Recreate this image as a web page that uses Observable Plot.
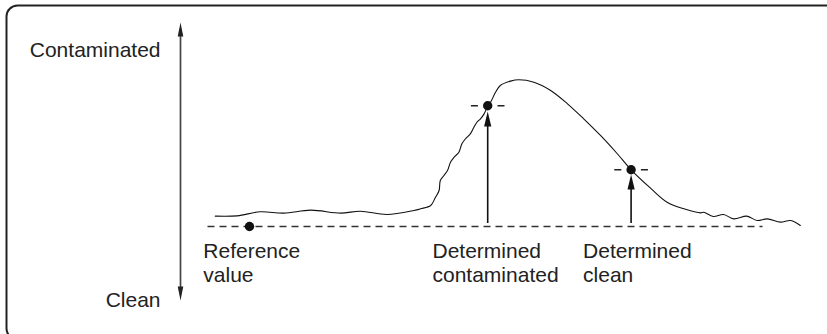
<!DOCTYPE html>
<html>
<head>
<meta charset="utf-8">
<script src="https://cdn.jsdelivr.net/npm/d3@7"></script>
<script src="https://cdn.jsdelivr.net/npm/@observablehq/plot@0.6"></script>
<style>
  html, body { margin: 0; padding: 0; background: #fff; overflow: hidden; }
  #chart svg { display: block; }
</style>
</head>
<body>
<div id="chart"></div>
<script>
// Measured signal (schematic): time t vs. contamination level (0 = reference value)
const curveT = [5.8, 9.45, 13.3, 17.2, 21.7, 26.7, 30, 34.4, 38.9, 40, 41.7, 42.5, 43.1, 43.3, 43.9, 44.5, 45, 45.6, 46.4, 46.9, 47.5, 48.3, 48.9, 49.4, 50, 50.6, 51.2, 51.7, 52.5, 53.3, 55, 56.4, 58.9, 61.7, 64.5, 67.2, 70, 72.8, 75.1, 78.3, 81.1, 83.9, 86.7, 87.2, 88.8, 90.5, 92.2, 94.4, 96.1, 97.8, 100, 101.7, 103.3];
const curveLevel = [6.9, 7.1, 9.8, 8.9, 10.9, 8.9, 10.2, 8, 10.7, 11.8, 14, 19.5, 24, 30.7, 34, 37.3, 42.9, 46.2, 49.5, 55.1, 58.5, 61.8, 66.2, 69.5, 71.8, 75.1, 80.3, 83, 89.5, 94, 96.9, 97.8, 96.2, 90.7, 81.8, 71.8, 60.7, 48.5, 37.8, 25.7, 16.2, 11.8, 9.1, 9.5, 6.7, 8, 5.1, 6.9, 4, 5.1, 2.9, 4, 0.7];

// Reference baseline (dashed)
const baselineT = [4.5, 97];
const baselineLevel = 0;

// Marked points: reference value, determined contaminated, determined clean
const pointT = [11.5, 51.2, 75.1];
const pointLevel = [0, 80.5, 37.8];

// Arrows from baseline up to the determined points
const arrowT = [51.2, 75.1];
const arrowTip = [76.7, 34.7];

// Point labels
const labelText = ["Reference\nvalue", "Determined\ncontaminated", "Determined\nclean"];
const labelT = [3.8, 42, 67.1];
const labelLevel = -9.4;

// Vertical scale axis (double arrow)
const axisT = 0;
const axisTop = 136;
const axisBottom = -49.3;
const axisLabelText = ["Contaminated", "Clean"];
const axisLabelLevel = [117.3, -48.9];
const axisLabelT = -3.33;

// ---- build tables ----
const curve = curveT.map((t, i) => ({t, level: curveLevel[i]}));
const points = pointT.map((t, i) => ({t, level: pointLevel[i]}));
const arrows = arrowT.map((t, i) => ({t, tip: arrowTip[i]}));
const labels = labelText.map((text, i) => ({text, t: labelT[i], level: labelLevel}));
const axisLabels = axisLabelText.map((text, i) => ({text, t: axisLabelT, level: axisLabelLevel[i]}));
const markerDashes = points.slice(1);

function slimTriangle(ratio) {
  return {
    draw(context, size) {
      const s = Math.sqrt(size / Math.PI);
      const w = s * ratio;
      context.moveTo(0, 0);
      context.lineTo(w, s);
      context.lineTo(-w, s);
      context.closePath();
    }
  };
}
const font = "'Liberation Sans', Arial, Helvetica, sans-serif";
const ink = "#222";

const chart = Plot.plot({
  width: 827,
  height: 334,
  marginLeft: 6,
  marginTop: 5,
  marginRight: 0,
  marginBottom: 0,
  style: {background: "#fff", fontFamily: font},
  x: {domain: [0, 100], range: [180, 780], axis: null},
  y: {domain: [0, 100], range: [226, 76], axis: null},
  marks: [
    Plot.frame({rx: 11, ry: 11, stroke: ink, strokeWidth: 2, insetRight: -30, insetBottom: -5}),
    // vertical double arrow
    Plot.ruleX([axisT], {y1: axisTop - 8, y2: axisBottom + 8, stroke: "#444", strokeWidth: 1.7}),
    Plot.dot([{t: axisT, level: axisTop}], {x: "t", y: "level", symbol: slimTriangle(0.2), r: 14, fill: ink, stroke: "none"}),
    Plot.dot([{t: axisT, level: axisBottom}], {x: "t", y: "level", symbol: slimTriangle(0.2), r: 14, rotate: 180, fill: ink, stroke: "none"}),
    Plot.text(axisLabels, {x: "t", y: "level", text: "text", textAnchor: "end", lineAnchor: "middle", fontSize: 21, fill: ink}),
    // dashed reference line
    Plot.link([{x1: baselineT[0], x2: baselineT[1], y: baselineLevel}], {x1: "x1", x2: "x2", y1: "y", y2: "y", stroke: "#333", strokeWidth: 1.4, strokeDasharray: "7,5"}),
    // signal curve
    Plot.line(curve, {x: "t", y: "level", curve: "catmull-rom", stroke: "#111", strokeWidth: 1.1}),
    // short dashes beside determined points
    Plot.link(markerDashes, {x1: d => d.t - 2.8, x2: d => d.t + 2.8, y1: "level", y2: "level", stroke: ink, strokeWidth: 1.4, strokeDasharray: "7,19.6,7"}),
    // arrows
    Plot.ruleX(arrows, {x: "t", y1: 2, y2: d => d.tip - 4, stroke: "#111", strokeWidth: 1.6}),
    Plot.dot(arrows, {x: "t", y: "tip", symbol: slimTriangle(0.24), r: 15, fill: "#111", stroke: "none"}),
    // points
    Plot.dot(points, {x: "t", y: "level", r: 4.7, fill: "#111", stroke: "none"}),
    // labels
    Plot.text(labels, {x: "t", y: "level", text: "text", textAnchor: "start", lineAnchor: "top", lineHeight: 1.14, fontSize: 21, fill: ink})
  ]
});
document.getElementById("chart").appendChild(chart);
</script>
</body>
</html>
